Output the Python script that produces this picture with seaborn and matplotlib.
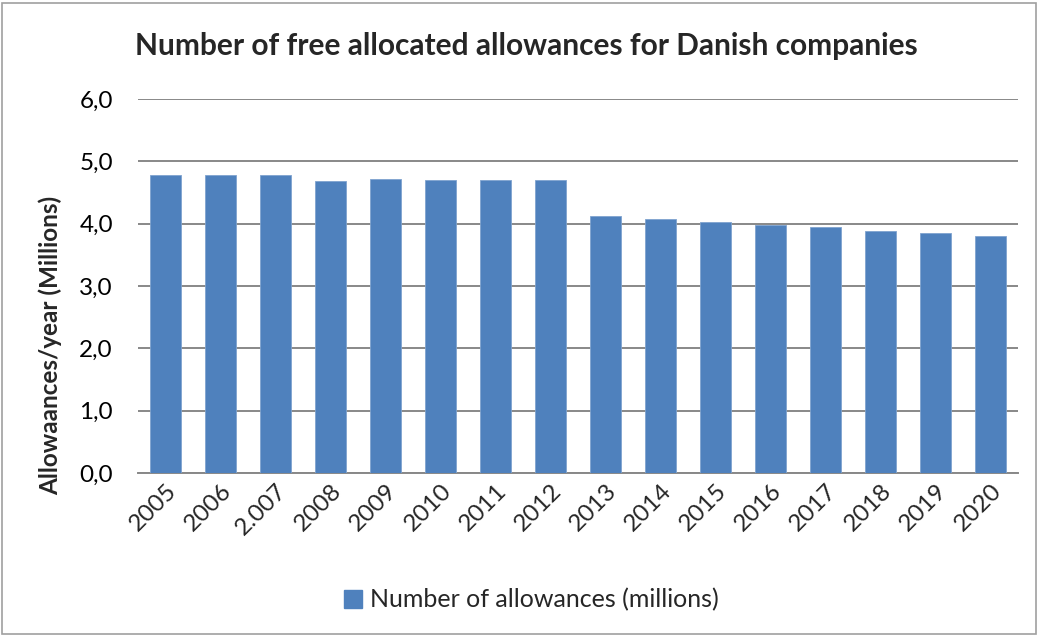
import matplotlib
matplotlib.use("Agg")
import matplotlib.pyplot as plt
from matplotlib.patches import Patch, Rectangle
import seaborn as sns
import pandas as pd

# data
years = ["2005", "2006", "2.007", "2008", "2009", "2010", "2011", "2012",
         "2013", "2014", "2015", "2016", "2017", "2018", "2019", "2020"]
allowances = [4.78, 4.78, 4.78, 4.69, 4.71, 4.70, 4.70, 4.70,
              4.12, 4.07, 4.02, 3.98, 3.94, 3.89, 3.85, 3.80]
y_ticks = [0, 1, 2, 3, 4, 5, 6]
y_tick_labels = ["0,0", "1,0", "2,0", "3,0", "4,0", "5,0", "6,0"]

df = pd.DataFrame({"year": years, "value": allowances})

sns.set_theme(style="white")
plt.rcParams["font.family"] = ["Lato", "DejaVu Sans"]

bar_color = "#4F81BD"
grid_color = "#888888"

fig = plt.figure(figsize=(10.38, 6.35), dpi=100)
ax = fig.add_axes([138 / 1038, 1 - 473 / 635, 880 / 1038, 374 / 635])

sns.barplot(data=df, x="year", y="value", color=bar_color, width=0.58,
            saturation=1, edgecolor="#7FA3CF", linewidth=0.6, ax=ax, zorder=3)

ax.set_ylim(0, 6)
ax.set_xlim(-0.5, len(years) - 0.5)
ax.set_yticks(y_ticks)
ax.set_yticklabels(y_tick_labels, fontsize=17.5)
ax.yaxis.grid(True, color=grid_color, linewidth=1.4, zorder=0)
ax.set_axisbelow(True)
for s in ["top", "right", "left"]:
    ax.spines[s].set_visible(False)
ax.spines["bottom"].set_color(grid_color)
ax.spines["bottom"].set_linewidth(1.4)
ax.tick_params(axis="y", length=0, pad=18, colors="black")
ax.tick_params(axis="x", length=0, pad=5)
plt.setp(ax.get_xticklabels(), rotation=45, ha="right",
         rotation_mode="anchor", fontsize=17.5)

ax.set_xlabel("")
ax.set_ylabel("Allowaances/year (Millions)", fontsize=17.5, fontweight="bold")
# label sits a bit below the axis middle in the original
ax.yaxis.set_label_coords(-0.086, 0.342)

fig.text(0.507, 1 - 46 / 635, "Number of free allocated allowances for Danish companies",
         ha="center", va="center", fontsize=21.5, fontweight="bold")

handles = [Patch(facecolor=bar_color, edgecolor=bar_color)]
fig.legend(handles, ["Number of allowances (millions)"], loc="center",
           bbox_to_anchor=(531 / 1038, 1 - 600 / 635), frameon=False,
           fontsize=18, handlelength=0.75, handleheight=0.75, handletextpad=0.3)

fig.patches.append(Rectangle((0.002, 0.002), 0.996, 0.993, transform=fig.transFigure,
                             fill=False, edgecolor="#A0A0A0", linewidth=1.2))

fig.savefig("out.png", dpi=100)
